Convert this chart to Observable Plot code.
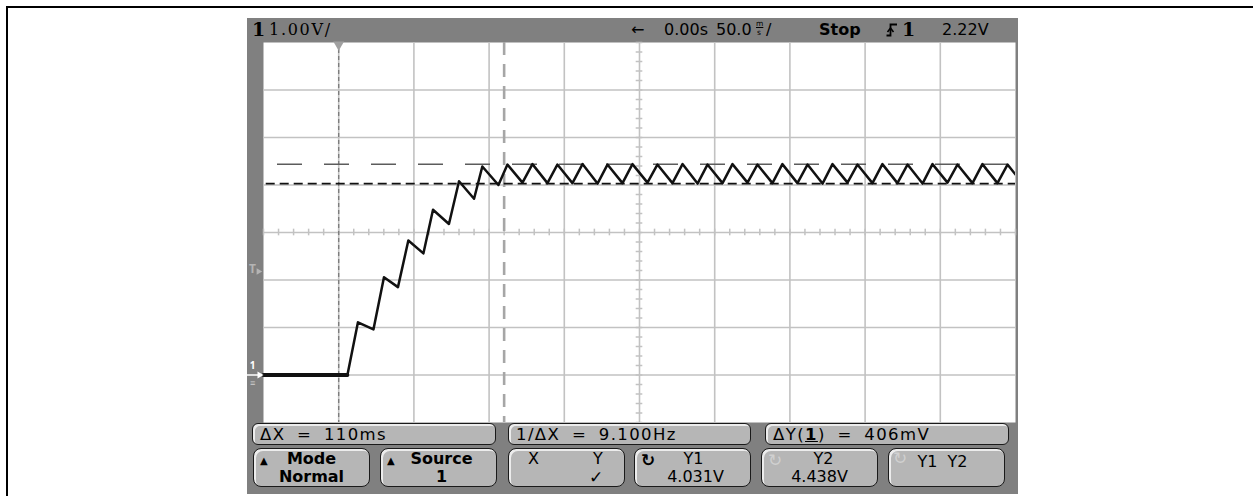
<!DOCTYPE html>
<html>
<head>
<meta charset="utf-8">
<script src="https://cdn.jsdelivr.net/npm/d3@7"></script>
<script src="https://cdn.jsdelivr.net/npm/@observablehq/plot@0.6"></script>
<style>
  body { margin: 0; background: white; }
  #page { position: relative; width: 1253px; height: 496px; background: white; overflow: hidden; font-family: "DejaVu Sans", sans-serif; color: #000; }
  .abs { position: absolute; white-space: pre; }
  .status { font-size: 16px; line-height: 16px; top: 22px; }
  .unit { position: absolute; font-size: 7.5px; line-height: 8px; }
  .meas { position: absolute; top: 423px; height: 20px; background: #b6b6b6; border: 1.5px solid #1a1a1a; border-radius: 6px;
          box-shadow: inset 2px 2px 0 #ececec; font-size: 16.5px; line-height: 16px; letter-spacing: 1.4px; word-spacing: 5px; }
  .meas span { position: absolute; left: 7px; top: 3px; white-space: pre; }
  .key { position: absolute; top: 448px; width: 115px; height: 37px; background: #b6b6b6; border: 1.5px solid #1a1a1a; border-radius: 8px;
         box-shadow: inset 2px 2px 0 #ececec; font-size: 16px; line-height: 16px; }
  .key .l { position: absolute; width: 100%; text-align: center; white-space: pre; }
  .up { position: absolute; left: 6px; top: 7px; font-size: 10px; line-height: 10px; }
  .rot { position: absolute; font-size: 17px; line-height: 17px; font-weight: bold; }
</style>
</head>
<body>
<div id="page">
  <!-- page rule lines -->
  <div class="abs" style="left:6px;top:6px;width:1247px;height:2px;background:#000"></div>
  <div class="abs" style="left:6px;top:6px;width:2px;height:490px;background:#000"></div>

  <!-- instrument bezel -->
  <div class="abs" style="left:247px;top:18px;width:771px;height:476px;background:#808080"></div>

  <!-- status line -->
  <div class="abs" style="left:252px;top:20px;font:bold 19px/19px 'DejaVu Serif',serif">1</div>
  <div class="abs status" style="left:269px;font-family:'DejaVu Serif',serif;letter-spacing:1.7px">1.00V/</div>
  <div class="abs status" style="left:631px">←</div>
  <div class="abs status" style="left:664px">0.00s</div>
  <div class="abs status" style="left:716px">50.0</div>
  <div class="unit" style="left:756px;top:20px;text-decoration:underline">m</div>
  <div class="unit" style="left:757px;top:29px">s</div>
  <div class="abs status" style="left:766px">/</div>
  <div class="abs status" style="left:819px;font-weight:bold">Stop</div>
  <svg class="abs" style="left:886px;top:23px" width="12" height="14" viewBox="0 0 12 14">
    <path d="M0.5 12.5 H4.5 V1.5 H11" fill="none" stroke="#000" stroke-width="1.8"/>
    <path d="M1.5 9 L4.5 5 L7.5 9" fill="none" stroke="#000" stroke-width="1.6"/>
  </svg>
  <div class="abs" style="left:902px;top:20px;font:bold 19px/19px 'DejaVu Serif',serif">1</div>
  <div class="abs status" style="left:942px">2.22V</div>

  <div id="chart" class="abs" style="left:247px;top:42px"></div>

  <!-- measurement readouts -->
  <div class="meas" style="left:252px;width:242px"><span>ΔX = 110ms</span></div>
  <div class="meas" style="left:508px;width:241px"><span>1/ΔX = 9.100Hz</span></div>
  <div class="meas" style="left:765px;width:242px"><span>ΔY(<b style="text-decoration:underline">1</b>) = 406mV</span></div>

  <!-- softkeys -->
  <div class="key" style="left:253px"><div class="up">▲</div>
    <div class="l" style="top:2px;font-weight:bold">Mode</div>
    <div class="l" style="top:19.5px;font-weight:bold">Normal</div></div>
  <div class="key" style="left:380px"><div class="up">▲</div>
    <div class="l" style="top:2px;font-weight:bold;padding-left:6px;box-sizing:border-box">Source</div>
    <div class="l" style="top:19.5px;font-weight:bold;padding-left:6px;box-sizing:border-box">1</div></div>
  <div class="key" style="left:508px">
    <div class="abs" style="left:19px;top:2px">X</div>
    <div class="abs" style="left:84px;top:2px">Y</div>
    <div class="abs" style="left:80px;top:19.5px;font-size:17px">✓</div></div>
  <div class="key" style="left:634px"><div class="rot" style="left:6px;top:3px">↻</div>
    <div class="l" style="top:2px;padding-left:2px;box-sizing:border-box">Y1</div>
    <div class="l" style="top:19.5px;padding-left:6px;box-sizing:border-box">4.031V</div></div>
  <div class="key" style="left:761px"><div class="rot" style="left:6px;top:3px;color:#d0d0d0;font-weight:normal">↻</div>
    <div class="l" style="top:2px;padding-left:8px;box-sizing:border-box">Y2</div>
    <div class="l" style="top:19.5px">4.438V</div></div>
  <div class="key" style="left:888px"><div class="rot" style="left:4px;top:1px;color:#d0d0d0;font-weight:normal">↻</div>
    <div class="l" style="top:5px;padding-right:8px;box-sizing:border-box">Y1  Y2</div></div>
</div>

<script>
// Channel 1 capture: 1.00 V/div, 50 ms/div, trigger level 2.22 V
const timeDomain = [-50, 450];   // ms across the 10 horizontal divisions
const voltDomain = [-1, 7];      // V across the 8 vertical divisions
const triggerLevel = 2.22;       // V

// Trace vertices: time (ms) and voltage (V)
const traceMs = [-50, 5.8, 12.8, 23.1, 30.1, 39.4, 46.3, 56.3, 62.7, 73.3, 80.0, 90.0, 95.5, 106.2,
  112.2, 122.2, 128.8, 138.8, 145.4, 155.4, 162.1, 172.1, 178.7, 188.7, 195.3, 205.3, 211.9, 221.9,
  228.6, 238.6, 245.2, 255.2, 261.8, 271.8, 278.4, 288.4, 295.0, 305.0, 311.7, 321.7, 328.3, 338.3,
  344.9, 354.9, 361.5, 371.5, 378.2, 388.2, 394.8, 404.8, 411.4, 421.4, 428.0, 438.0, 444.7, 450];
const traceV = [0, 0, 1.11, 0.96, 2.06, 1.85, 2.83, 2.56, 3.48, 3.18, 4.08, 3.71, 4.39, 4.00,
  4.43, 4.05, 4.44, 4.04, 4.43, 4.04, 4.44, 4.03, 4.43, 4.04, 4.44, 4.05, 4.43, 4.04,
  4.44, 4.03, 4.43, 4.04, 4.44, 4.05, 4.43, 4.04, 4.44, 4.04, 4.43, 4.03, 4.44, 4.05,
  4.43, 4.04, 4.44, 4.04, 4.43, 4.03, 4.44, 4.05, 4.43, 4.04, 4.44, 4.04, 4.43, 4.22];

// Cursor positions
const cursorX1 = 0, cursorX2 = 110;        // ms
const cursorY1 = 4.031, cursorY2 = 4.438;  // V

const trace = traceMs.map((t, i) => ({t, v: traceV[i]}));

// Graticule
const majorX = d3.range(0, 450, 50);
const majorY = d3.range(0, 7, 1);
const minorX = d3.range(-50, 451, 10);
const minorY = d3.range(-1, 7.01, 0.2);
const gridColor = "#c2c2c2";

const chart = Plot.plot({
  width: 771,
  height: 380,
  marginLeft: 16,
  marginRight: 3,
  marginTop: 0,
  marginBottom: 0,
  style: "background: transparent; overflow: visible;",
  x: {domain: timeDomain, axis: null},
  y: {domain: voltDomain, axis: null},
  marks: [
    Plot.frame({fill: "white", stroke: null}),
    Plot.ruleX(majorX, {stroke: gridColor, strokeWidth: 1.6}),
    Plot.ruleY(majorY, {stroke: gridColor, strokeWidth: 1.6}),
    Plot.ruleX(minorX, {y1: 3 - 0.07, y2: 3 + 0.07, stroke: gridColor, strokeWidth: 1.5}),
    Plot.ruleY(minorY, {x1: 200 - 2.2, x2: 200 + 2.2, stroke: gridColor, strokeWidth: 1.5}),
    // cursors
    Plot.ruleX([cursorX1], {stroke: "#7a7a7a", strokeWidth: 1.3, strokeDasharray: "4,3"}),
    Plot.ruleX([cursorX2], {stroke: "#a6a6a6", strokeWidth: 2.6, strokeDasharray: "13,9"}),
    Plot.ruleY([cursorY2], {stroke: "#5c5c5c", strokeWidth: 1.4, strokeDasharray: "25,22", strokeDashoffset: -14}),
    Plot.ruleY([cursorY1], {stroke: "#111", strokeWidth: 1.8, strokeDasharray: "9,5", x1: timeDomain[0] + 1.8, x2: timeDomain[1]}),
    // waveform
    Plot.line(trace.slice(0, 2), {x: "t", y: "v", stroke: "#111", strokeWidth: 3.8}),
    Plot.line(trace, {x: "t", y: "v", stroke: "#111", strokeWidth: 2.5, clip: true}),
    // time reference marker
    Plot.dot([cursorX1], {x: d => d, y: voltDomain[1], symbol: "triangle", r: 4, rotate: 180, fill: "#a0a0a0", dy: 2}),
    // ground reference marker for channel 1
    Plot.text(["1"], {x: timeDomain[0], y: 0, dx: -11, dy: -9, fill: "white", fontSize: 10, fontWeight: "bold"}),
    Plot.ruleY([0], {x1: timeDomain[0] - 11, x2: timeDomain[0] - 3, stroke: "white", strokeWidth: 1.5}),
    Plot.dot([0], {x: timeDomain[0], y: d => d, dx: -4, symbol: "triangle", rotate: 90, r: 2.6, fill: "white"}),
    Plot.text(["≡"], {x: timeDomain[0], y: 0, dx: -11, dy: 8, fill: "#d0d0d0", fontSize: 9}),
    // trigger level marker
    Plot.text(["T"], {x: timeDomain[0], y: triggerLevel, dx: -11, fill: "#b4b4b4", fontSize: 12, fontWeight: "bold"}),
    Plot.dot([triggerLevel], {x: timeDomain[0], y: d => d, dx: -5, dy: 2, symbol: "triangle", rotate: 90, r: 2.4, fill: "#b4b4b4"})
  ]
});

document.getElementById("chart").append(chart);
</script>
</body>
</html>
